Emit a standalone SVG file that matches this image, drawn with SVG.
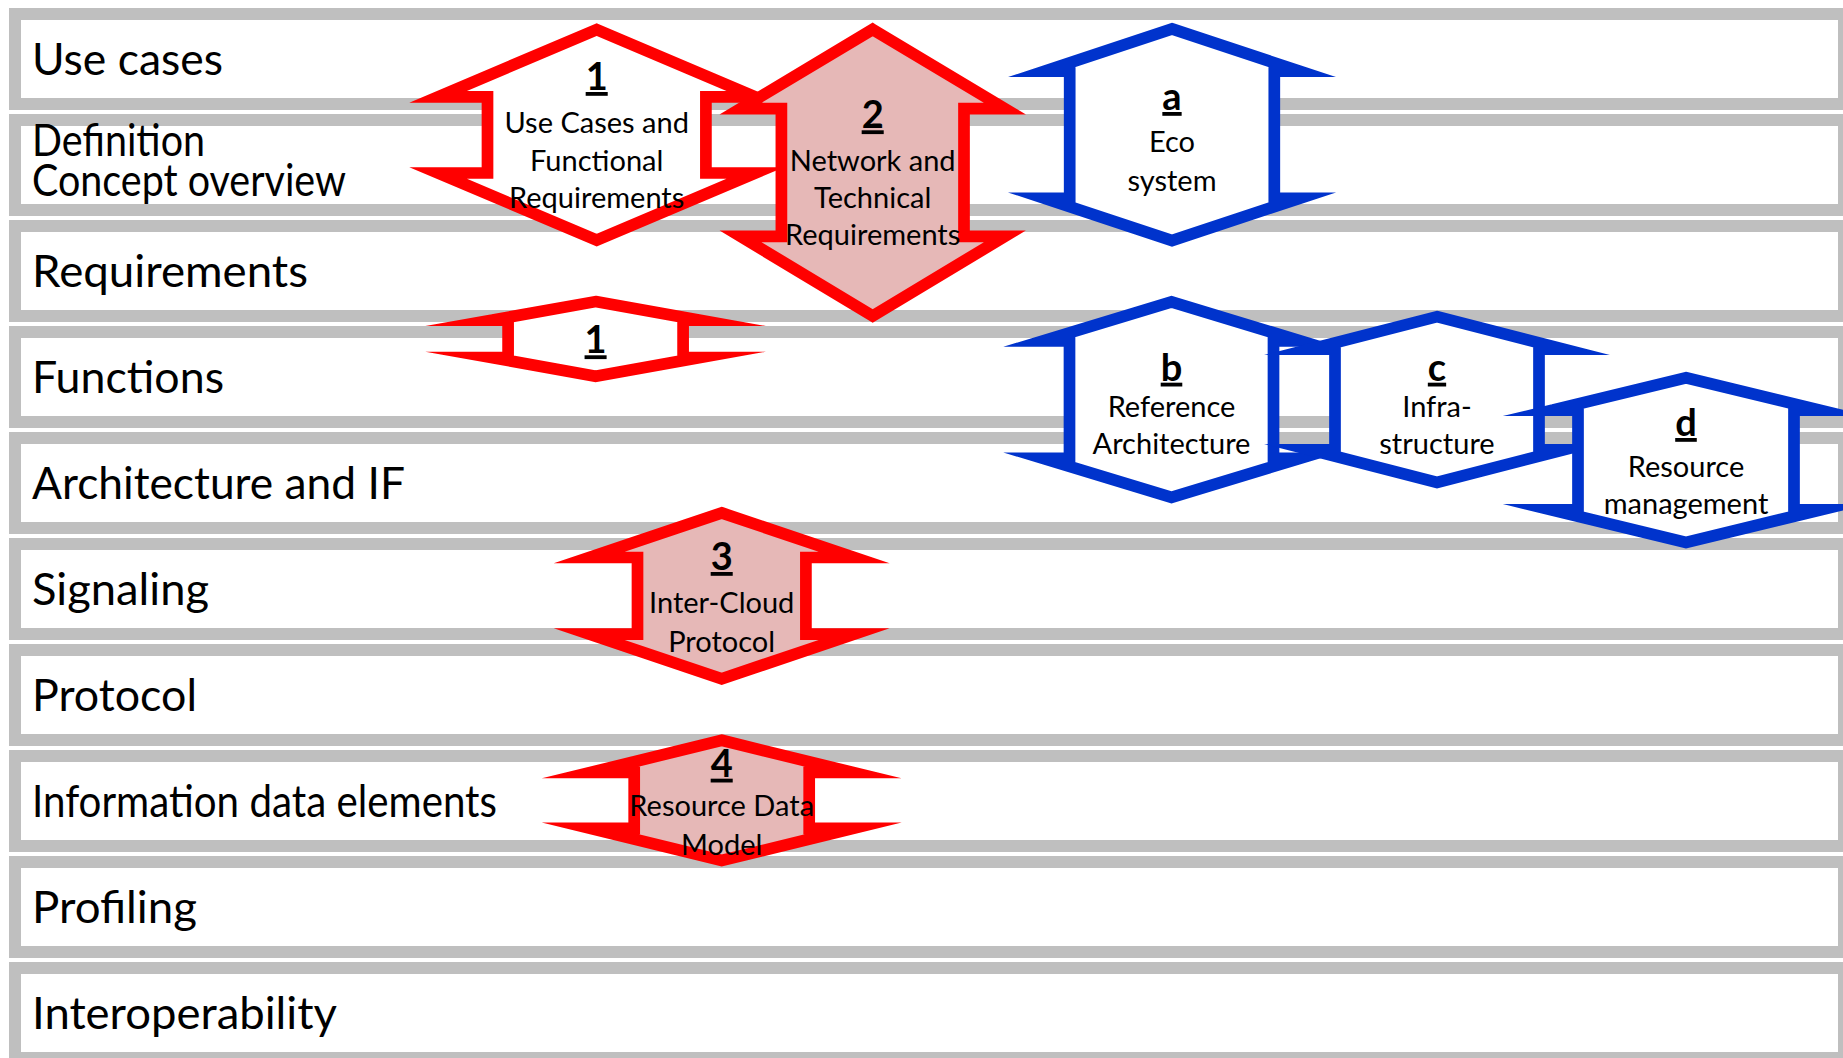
<svg xmlns="http://www.w3.org/2000/svg" width="1843" height="1058" viewBox="0 0 1843 1058">
  <style>
    .lane { fill: #ffffff; stroke: #bfbfbf; stroke-width: 12; }
    .lbl { font-family: Lato, "Liberation Sans", sans-serif; font-size: 44px; fill: #000000; }
    .shp { stroke-width: 11.7; stroke-linejoin: miter; stroke-miterlimit: 20; }
    .red { stroke: #ff0000; }
    .blue { stroke: #0033cc; }
    .white { fill: #ffffff; }
    .pink { fill: #e6b8b7; }
    .num { font-family: Lato, "Liberation Sans", sans-serif; font-size: 38px; font-weight: bold; text-decoration: underline; text-anchor: middle; fill: #000000; }
    .txt { font-family: Lato, "Liberation Sans", sans-serif; font-size: 29px; text-anchor: middle; fill: #000000; }
  </style>

  <rect width="1843" height="1058" fill="#ffffff"/>

  <!-- Swim lanes: one gray-framed band per layer -->
  <g id="lanes">
    <g id="lane-use-cases"><rect class="lane" x="15" y="14" width="1829" height="90"/><text class="lbl" x="32" y="75" textLength="191" lengthAdjust="spacingAndGlyphs">Use cases</text></g>
    <g id="lane-definition"><rect class="lane" x="15" y="120" width="1829" height="90"/><text class="lbl" x="32" y="156" textLength="173" lengthAdjust="spacingAndGlyphs">Definition</text><text class="lbl" x="32" y="196" textLength="314" lengthAdjust="spacingAndGlyphs">Concept overview</text></g>
    <g id="lane-requirements"><rect class="lane" x="15" y="226" width="1829" height="90"/><text class="lbl" x="32" y="287" textLength="276" lengthAdjust="spacingAndGlyphs">Requirements</text></g>
    <g id="lane-functions"><rect class="lane" x="15" y="332" width="1829" height="90"/><text class="lbl" x="32" y="393" textLength="192" lengthAdjust="spacingAndGlyphs">Functions</text></g>
    <g id="lane-architecture"><rect class="lane" x="15" y="438" width="1829" height="90"/><text class="lbl" x="32" y="499" textLength="373" lengthAdjust="spacingAndGlyphs">Architecture and IF</text></g>
    <g id="lane-signaling"><rect class="lane" x="15" y="544" width="1829" height="90"/><text class="lbl" x="32" y="605" textLength="177" lengthAdjust="spacingAndGlyphs">Signaling</text></g>
    <g id="lane-protocol"><rect class="lane" x="15" y="650" width="1829" height="90"/><text class="lbl" x="32" y="711" textLength="165" lengthAdjust="spacingAndGlyphs">Protocol</text></g>
    <g id="lane-information"><rect class="lane" x="15" y="756" width="1829" height="90"/><text class="lbl" x="32" y="817" textLength="465" lengthAdjust="spacingAndGlyphs">Information data elements</text></g>
    <g id="lane-profiling"><rect class="lane" x="15" y="862" width="1829" height="90"/><text class="lbl" x="32" y="923" textLength="165" lengthAdjust="spacingAndGlyphs">Profiling</text></g>
    <g id="lane-interoperability"><rect class="lane" x="15" y="968" width="1829" height="90"/><text class="lbl" x="32" y="1029" textLength="305" lengthAdjust="spacingAndGlyphs">Interoperability</text></g>
  </g>

  <!-- Up-down arrow work items -->
  <g id="node-1">
    <polygon class="shp red white" points="596.7,29.7 755.3,96.8 705.9,96.8 705.9,173 755.3,173 596.7,240.2 438.1,173 487.5,173 487.5,96.8 438.1,96.8"/>
    <text class="num" x="596.7" y="90">1</text>
    <text class="txt" x="596.7" y="132.7">Use Cases and</text>
    <text class="txt" x="596.7" y="171">Functional</text>
    <text class="txt" x="596.7" y="208.3">Requirements</text>
  </g>

  <g id="node-2">
    <polygon class="shp red pink" points="872.7,29.4 1004.8,108.6 964,108.6 964,236.4 1004.8,236.4 872.7,316 740.6,236.4 781.4,236.4 781.4,108.6 740.6,108.6"/>
    <text class="num" x="872.7" y="128.3">2</text>
    <text class="txt" x="872.7" y="170.7">Network and</text>
    <text class="txt" x="872.7" y="208.3">Technical</text>
    <text class="txt" x="872.7" y="245">Requirements</text>
  </g>

  <g id="node-a">
    <polygon class="shp blue white" points="1172,28.9 1299.7,71.2 1274.3,71.2 1274.3,198.3 1299.7,198.3 1172,240.5 1044.3,198.3 1069.7,198.3 1069.7,71.2 1044.3,71.2"/>
    <text class="num" x="1172" y="110">a</text>
    <text class="txt" x="1172" y="151.7">Eco</text>
    <text class="txt" x="1172" y="190.7">system</text>
  </g>

  <g id="node-1-functions">
    <polygon class="shp red white" points="595.6,301.6 699.8,320.2 683.1,320.2 683.1,357.6 699.8,357.6 595.6,376.2 491.4,357.6 508.1,357.6 508.1,320.2 491.4,320.2"/>
    <text class="num" x="595.6" y="353.3">1</text>
  </g>

  <g id="node-b">
    <polygon class="shp blue white" points="1171.5,301.8 1300.3,340.9 1273.5,340.9 1273.5,458.3 1300.3,458.3 1171.5,497.4 1042.7,458.3 1069.5,458.3 1069.5,340.9 1042.7,340.9"/>
    <text class="num" x="1171.5" y="380.7">b</text>
    <text class="txt" x="1171.5" y="416.7">Reference</text>
    <text class="txt" x="1171.5" y="454">Architecture</text>
  </g>

  <g id="node-c">
    <polygon class="shp blue white" points="1437,316.7 1563.6,349.2 1539,349.2 1539,449.9 1563.6,449.9 1437,482.4 1310.4,449.9 1335,449.9 1335,349.2 1310.4,349.2"/>
    <text class="num" x="1437" y="380.7">c</text>
    <text class="txt" x="1437" y="416.7">Infra-</text>
    <text class="txt" x="1437" y="454">structure</text>
  </g>

  <g id="node-d">
    <polygon class="shp blue white" points="1686,377.7 1820.2,410.2 1794,410.2 1794,509.9 1820.2,509.9 1686,542.4 1551.8,509.9 1578,509.9 1578,410.2 1551.8,410.2"/>
    <text class="num" x="1686" y="436">d</text>
    <text class="txt" x="1686" y="476.7">Resource</text>
    <text class="txt" x="1686" y="514">management</text>
  </g>

  <g id="node-3">
    <polygon class="shp red pink" points="721.7,512.9 854,557.5 805.9,557.5 805.9,634.2 854,634.2 721.7,678.8 589.4,634.2 637.5,634.2 637.5,557.5 589.4,557.5"/>
    <text class="num" x="721.7" y="570">3</text>
    <text class="txt" x="721.7" y="613">Inter-Cloud</text>
    <text class="txt" x="721.7" y="652">Protocol</text>
  </g>

  <g id="node-4">
    <polygon class="shp red pink" points="721.7,740.3 853.1,772.5 809.2,772.5 809.2,828.4 853.1,828.4 721.7,860.5 590.3,828.4 634.2,828.4 634.2,772.5 590.3,772.5"/>
    <text class="num" x="721.7" y="776.7">4</text>
    <text class="txt" x="721.7" y="816">Resource Data</text>
    <text class="txt" x="721.7" y="855">Model</text>
  </g>
</svg>
